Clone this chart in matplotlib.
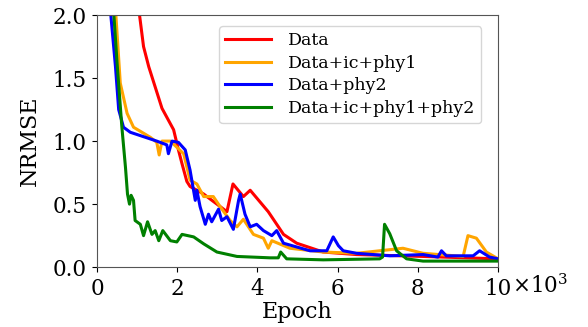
import numpy as np
import matplotlib
matplotlib.use("Agg")
import matplotlib.pyplot as plt
from matplotlib.ticker import FuncFormatter

plt.rcParams['font.family'] = ['DejaVu Serif']
plt.rcParams['mathtext.fontset'] = 'dejavuserif'

# epochs (x1000) and NRMSE
data_x = [1.04, 1.16, 1.29, 1.45, 1.62, 1.91, 2.03, 2.12, 2.24, 2.32, 2.66, 2.74, 3.24,
          3.39, 3.65, 3.82, 4.27, 4.65, 4.98, 5.64, 6.47, 8.13, 10.0]
data_y = [2.05, 1.75, 1.59, 1.43, 1.26, 1.09, 0.93, 0.82, 0.68, 0.64, 0.58, 0.56, 0.44,
          0.66, 0.56, 0.61, 0.44, 0.26, 0.19, 0.12, 0.10, 0.085, 0.066]

ic1_x = [0.46, 0.58, 0.75, 0.91, 1.33, 1.49, 1.55, 1.62, 1.83, 2.16, 2.32, 2.49, 2.66,
         2.90, 3.07, 3.32, 3.49, 3.65, 3.90, 4.15, 4.27, 4.36, 4.81, 5.64, 6.47, 7.63,
         8.13, 9.13, 9.25, 9.46, 9.71, 10.0]
ic1_y = [2.05, 1.46, 1.22, 1.11, 1.03, 0.99, 0.89, 1.00, 1.00, 0.90, 0.69, 0.66, 0.56,
         0.56, 0.48, 0.37, 0.32, 0.38, 0.26, 0.23, 0.15, 0.21, 0.15, 0.12, 0.11, 0.15,
         0.11, 0.085, 0.25, 0.23, 0.12, 0.066]

phy2_x = [0.33, 0.46, 0.54, 0.66, 0.83, 1.49, 1.74, 1.78, 1.87, 2.03, 2.20, 2.32, 2.45,
          2.49, 2.57, 2.70, 2.78, 2.86, 3.03, 3.11, 3.24, 3.40, 3.53, 3.57, 3.69, 3.82,
          3.98, 4.15, 4.36, 4.48, 4.65, 4.98, 5.31, 5.73, 5.89, 6.02, 6.14, 6.47, 7.30,
          8.13, 8.50, 8.59, 8.71, 9.38, 9.54, 9.79, 10.0]
phy2_y = [2.05, 1.59, 1.25, 1.11, 1.07, 1.00, 0.97, 0.90, 1.00, 0.99, 0.93, 0.77, 0.53,
          0.61, 0.48, 0.34, 0.42, 0.36, 0.46, 0.37, 0.40, 0.30, 0.53, 0.58, 0.42, 0.32,
          0.34, 0.29, 0.25, 0.29, 0.19, 0.16, 0.13, 0.13, 0.24, 0.17, 0.13, 0.11, 0.09,
          0.10, 0.08, 0.13, 0.09, 0.09, 0.13, 0.08, 0.066]

all_x = [0.41, 0.50, 0.62, 0.71, 0.76, 0.81, 0.85, 0.91, 0.95, 1.08, 1.16, 1.26, 1.37,
         1.45, 1.54, 1.64, 1.83, 1.99, 2.12, 2.41, 2.66, 2.99, 3.49, 4.32, 4.52, 4.58,
         4.73, 5.64, 7.05, 7.12, 7.17, 7.30, 7.47, 7.72, 8.13, 10.0]
all_y = [2.05, 1.62, 1.11, 0.79, 0.58, 0.50, 0.57, 0.53, 0.37, 0.34, 0.25, 0.36, 0.26,
         0.29, 0.21, 0.29, 0.21, 0.20, 0.26, 0.24, 0.185, 0.12, 0.085, 0.074, 0.074, 0.12,
         0.066, 0.058, 0.066, 0.08, 0.34, 0.265, 0.13, 0.066, 0.048, 0.048]

series = [
    (data_x, data_y, "red", "Data"),
    (ic1_x, ic1_y, "orange", "Data+ic+phy1"),
    (phy2_x, phy2_y, "blue", "Data+phy2"),
    (all_x, all_y, "green", "Data+ic+phy1+phy2"),
]

fig = plt.figure(figsize=(5.88, 3.27), dpi=100)
ax = fig.add_axes([0.165, 0.183, 0.682, 0.771])

for x, y, c, lab in series:
    ax.plot(np.array(x) * 1000, y, color=c, lw=2.2, label=lab)

ax.set_xlim(0, 10000)
ax.set_ylim(0, 2.0)
ax.set_xticks([0, 2000, 4000, 6000, 8000, 10000])
ax.set_yticks([0.0, 0.5, 1.0, 1.5, 2.0])
ax.xaxis.set_major_formatter(FuncFormatter(lambda v, p: "%d" % round(v / 1000)))
ax.yaxis.set_major_formatter(FuncFormatter(lambda v, p: "%.1f" % v))
ax.tick_params(labelsize=15.5, pad=4)
ax.text(1.035, -0.03, r"$\times10^3$", transform=ax.transAxes, fontsize=15.5,
        ha="left", va="top")
for s in ax.spines.values():
    s.set_color("#555555")

ax.set_xlabel("Epoch", fontsize=16, labelpad=1)
ax.set_ylabel("NRMSE", fontsize=16, labelpad=8)

ax.legend(loc="upper right", fontsize=12.5, bbox_to_anchor=(0.98, 0.99),
          handlelength=2.6, handletextpad=1.0, borderpad=0.35, labelspacing=0.32)

fig.savefig("out.png", dpi=100)
